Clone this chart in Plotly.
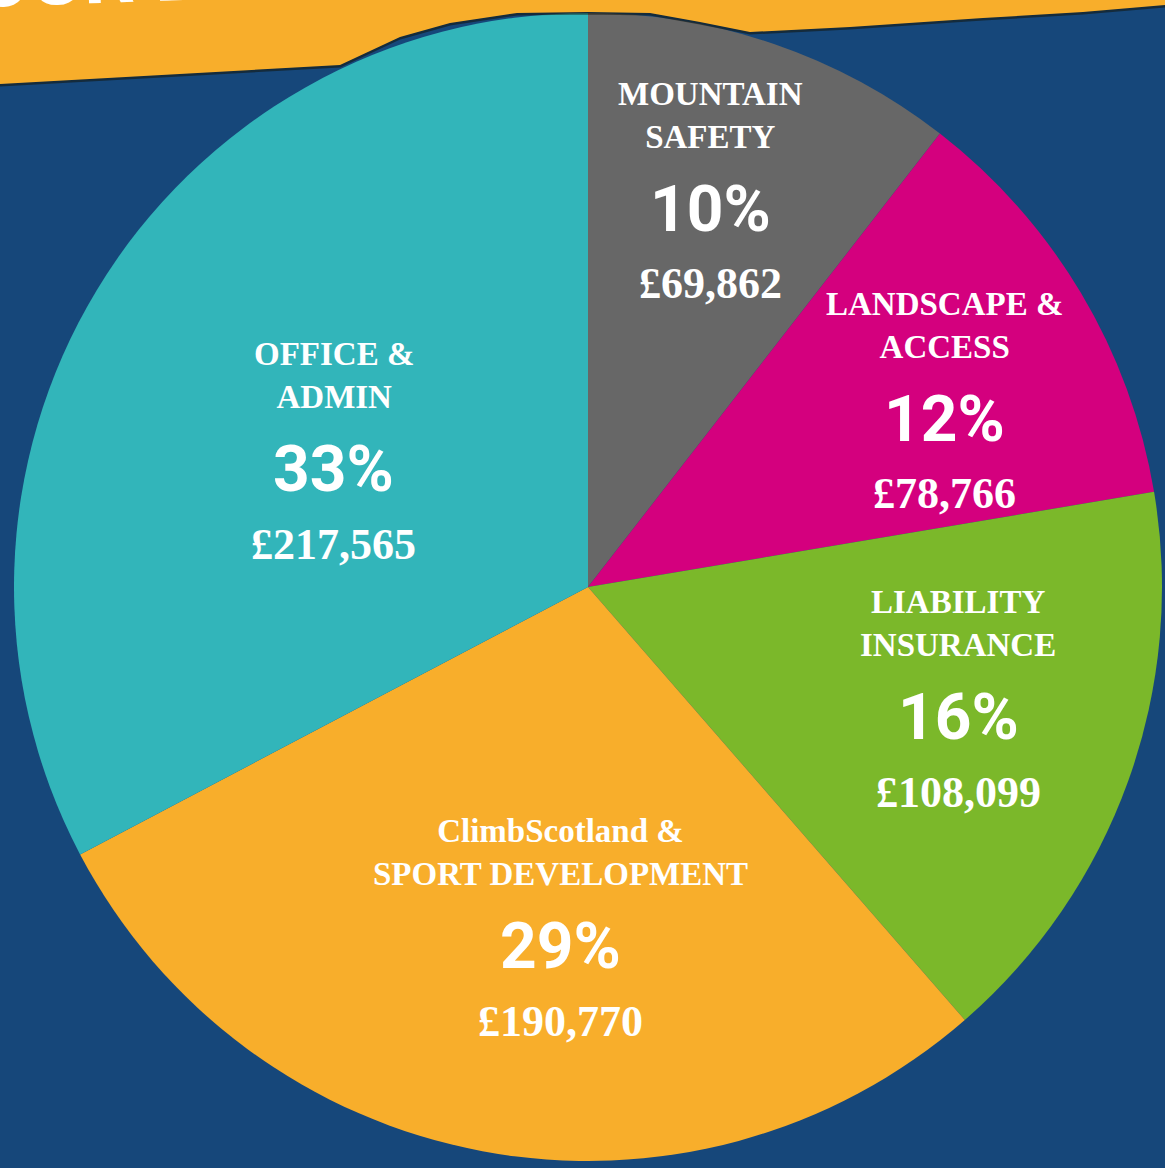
import plotly.graph_objects as go

# ---- data ----
categories = ["MOUNTAIN<br>SAFETY", "LANDSCAPE &<br>ACCESS", "LIABILITY<br>INSURANCE",
              "ClimbScotland &<br>SPORT DEVELOPMENT", "OFFICE &<br>ADMIN"]
amounts = [69862, 78766, 108099, 190770, 217565]
pct_labels = ["10%", "12%", "16%", "29%", "33%"]
colors = ["#676767", "#D4007E", "#7BB82A", "#F8AE2B", "#32B5BA"]

W, H = 1165, 1168
BG = "#16477A"
ORANGE = "#F8AE2B"


def px(x):
    return x / W


def py(y):
    return 1 - y / H


fig = go.Figure()
fig.add_trace(go.Pie(
    labels=categories,
    values=amounts,
    marker=dict(colors=colors, line=dict(width=0)),
    sort=False,
    direction="clockwise",
    rotation=0,
    textinfo="none",
    hoverinfo="skip",
    showlegend=False,
    domain=dict(x=[px(14), px(1162)], y=[py(1161), py(13)]),
))

# label layout (text block anchors, pixels from top-left)
label_x = [710, 944, 958, 560, 334]
label_y = [95, 305, 603, 832, 355]

annotations = []
for i, name in enumerate(categories):
    x = px(label_x[i])
    y0 = label_y[i]
    annotations.append(dict(
        x=x, y=py(y0 + 20.5), xref="paper", yref="paper", showarrow=False,
        text=name, xanchor="center", yanchor="middle", align="center",
        font=dict(family="Liberation Serif", size=33, color="white", weight="bold"),
    ))
    annotations.append(dict(
        x=x, y=py(y0 + 114), xref="paper", yref="paper", showarrow=False,
        text=pct_labels[i], xanchor="center", yanchor="middle",
        font=dict(family="Roboto", size=64, color="white", weight="bold"),
    ))
    annotations.append(dict(
        x=x, y=py(y0 + 189), xref="paper", yref="paper", showarrow=False,
        text=f"£{amounts[i]:,}", xanchor="center", yanchor="middle",
        font=dict(family="Liberation Serif", size=44, color="white", weight="bold"),
    ))

# banner title (mostly cut off at the top, as in the original artwork)
annotations.append(dict(
    x=px(-28), y=py(29), xref="paper", yref="paper", showarrow=False,
    text="OUR EXPENDITURE", xanchor="left", yanchor="bottom", textangle=-2,
    font=dict(family="Roboto", size=80, color="white", weight="bold"),
))

# banner shape
pts = [(0, 84), (340, 65), (400, 37), (450, 23), (517, 13), (588, 12), (650, 13),
       (700, 22), (750, 32), (850, 27), (983, 18), (1083, 12), (1165, 5)]
path = f"M {px(-5)},{py(-5)} L {px(-5)},{py(84)} "
path += " ".join(f"L {px(a)},{py(b)}" for a, b in pts)
path += f" L {px(1170)},{py(5)} L {px(1170)},{py(-5)} Z"
edge = f"M {px(-5)},{py(85)} " + " ".join(f"L {px(a)},{py(b + 1)}" for a, b in pts)

shapes = [
    dict(type="path", path=edge, xref="paper", yref="paper",
         line=dict(color="rgba(20,20,10,0.55)", width=3), layer="above"),
    dict(type="path", path=path, xref="paper", yref="paper",
         fillcolor=ORANGE, line=dict(width=0), layer="above"),
]

fig.update_layout(
    width=W, height=H,
    margin=dict(l=0, r=0, t=0, b=0),
    paper_bgcolor=BG, plot_bgcolor=BG,
    shapes=shapes,
    annotations=annotations,
    showlegend=False,
)

fig.write_html(
    "out.html",
    config={"displayModeBar": False},
    post_script="document.body.style.margin='0';document.body.style.padding='0';"
                "document.body.style.overflow='hidden';",
)
